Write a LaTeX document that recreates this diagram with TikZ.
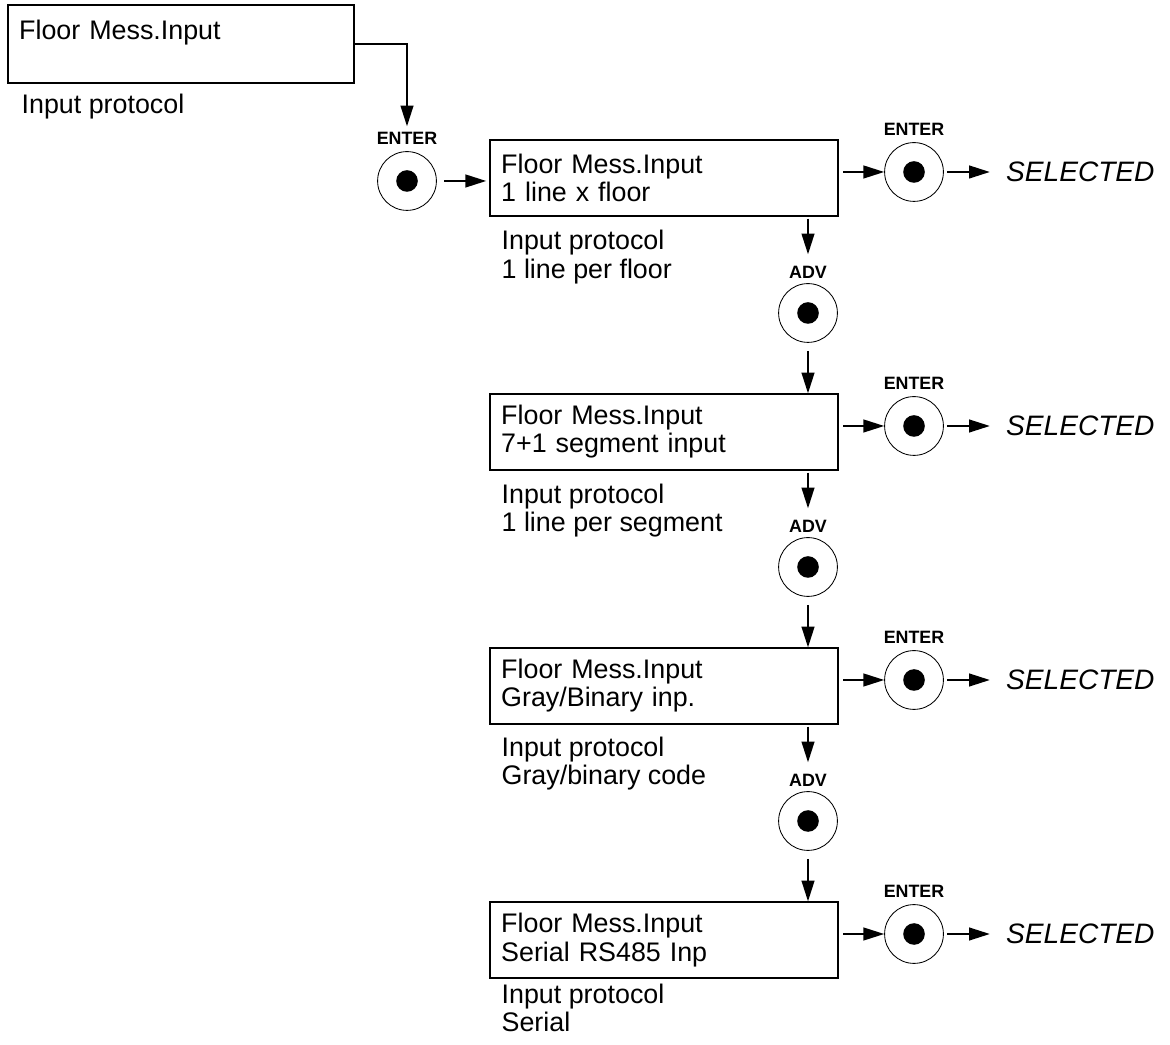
\documentclass[tikz,border=0pt]{standalone}
\usepackage{fontspec}
\setmainfont{Liberation Sans}
\usetikzlibrary{arrows.meta, positioning}
\newcommand{\menufont}{\fontsize{19.1}{20}\selectfont}
\newcommand{\keyfont}{\fontsize{12.7}{14}\selectfont\bfseries}
\newcommand{\selfont}{\fontsize{20}{22}\selectfont\itshape}

\begin{document}
\begin{tikzpicture}[>={Triangle[length=0.52cm, width=0.32cm]},
  menubox/.style={draw, line width=0.9pt, minimum width=8.7cm, minimum height=1.9cm, text width=8.14cm, inner xsep=0.28cm, align=left, font=\menufont},
  note/.style={align=left, font=\menufont, inner sep=0pt},
  btn/.style={circle, draw, line width=0.6pt, minimum size=1.47cm, inner sep=0pt, path picture={\fill (path picture bounding box.center) circle (0.27cm);}},
  key/.style={font=\keyfont, inner sep=0pt},
  sel/.style={font=\selfont, inner sep=0pt},
  flow/.style={->, line width=1.3pt}]
  \useasboundingbox (0,0) rectangle (29.25,26.1);
  % start menu
  \node[menubox, minimum width=8.65cm, text width=8.09cm, minimum height=1.95cm] (b1) at (4.525,25.0) {Floor Mess.Input\\\mbox{}};
  \node[note, below right=0.26cm and 0.35cm of b1.south west] (n1) {Input protocol};
  \node[btn] (e1) at (10.175,21.575) {};
  \node[key, above=0.17cm of e1] (k1) {ENTER};
  % choices
  \node[menubox] (b2) at (16.6,21.65) {Floor Mess.Input\\1 line x floor};
  \node[note, below right=0.34cm and 0.3cm of b2.south west] (n2) {Input protocol\\1 line per floor};
  \node[btn] (e2) at (22.85,21.8) {};
  \node[key, above=0.17cm of e2] (k2) {ENTER};
  \node[sel, right=1.55cm of e2] (s2) {SELECTED};
  \node[btn] (a1) at (20.2,18.275) {};
  \node[key, above=0.12cm of a1] (ka1) {ADV};

  \node[menubox] (b3) at (16.6,15.3) {Floor Mess.Input\\7+1 segment input};
  \node[note, below right=0.32cm and 0.3cm of b3.south west] (n3) {Input protocol\\1 line per segment};
  \node[btn] (e3) at (22.85,15.45) {};
  \node[key, above=0.17cm of e3] (k3) {ENTER};
  \node[sel, right=1.55cm of e3] (s3) {SELECTED};
  \node[btn] (a2) at (20.2,11.925) {};
  \node[key, above=0.12cm of a2] (ka2) {ADV};

  \node[menubox] (b4) at (16.6,8.95) {Floor Mess.Input\\Gray/Binary inp.};
  \node[note, below right=0.3cm and 0.3cm of b4.south west] (n4) {Input protocol\\Gray/binary code};
  \node[btn] (e4) at (22.85,9.1) {};
  \node[key, above=0.17cm of e4] (k4) {ENTER};
  \node[sel, right=1.55cm of e4] (s4) {SELECTED};
  \node[btn] (a3) at (20.2,5.575) {};
  \node[key, above=0.12cm of a3] (ka3) {ADV};

  \node[menubox] (b5) at (16.6,2.6) {Floor Mess.Input\\Serial RS485 Inp};
  \node[note, below right=0.13cm and 0.3cm of b5.south west] (n5) {Input protocol\\Serial};
  \node[btn] (e5) at (22.85,2.75) {};
  \node[key, above=0.17cm of e5] (k5) {ENTER};
  \node[sel, right=1.55cm of e5] (s5) {SELECTED};
  % connectors
  \draw[flow, shorten >=0.13cm] (b1.east) -| (k1.north);
  \draw[flow, shorten <=0.18cm, shorten >=0.08cm] (e1.east) -- (e1.east -| b2.west);
  \draw[flow, shorten <=0.12cm] (b2.east |- e2.west) -- (e2.west);
  \draw[flow, shorten <=0.08cm, shorten >=0.4cm] (e2.east) -- (s2.west);
  \draw[flow, shorten <=0.05cm, shorten >=0.28cm] (b2.south -| a1.center) -- (ka1.north);
  \draw[flow, shorten <=0.2cm] (a1.south) -- (a1.south |- b3.north);
  \draw[flow, shorten <=0.12cm] (b3.east |- e3.west) -- (e3.west);
  \draw[flow, shorten <=0.08cm, shorten >=0.4cm] (e3.east) -- (s3.west);
  \draw[flow, shorten <=0.05cm, shorten >=0.28cm] (b3.south -| a2.center) -- (ka2.north);
  \draw[flow, shorten <=0.2cm] (a2.south) -- (a2.south |- b4.north);
  \draw[flow, shorten <=0.12cm] (b4.east |- e4.west) -- (e4.west);
  \draw[flow, shorten <=0.08cm, shorten >=0.4cm] (e4.east) -- (s4.west);
  \draw[flow, shorten <=0.05cm, shorten >=0.28cm] (b4.south -| a3.center) -- (ka3.north);
  \draw[flow, shorten <=0.2cm] (a3.south) -- (a3.south |- b5.north);
  \draw[flow, shorten <=0.12cm] (b5.east |- e5.west) -- (e5.west);
  \draw[flow, shorten <=0.08cm, shorten >=0.4cm] (e5.east) -- (s5.west);
\end{tikzpicture}
\end{document}
